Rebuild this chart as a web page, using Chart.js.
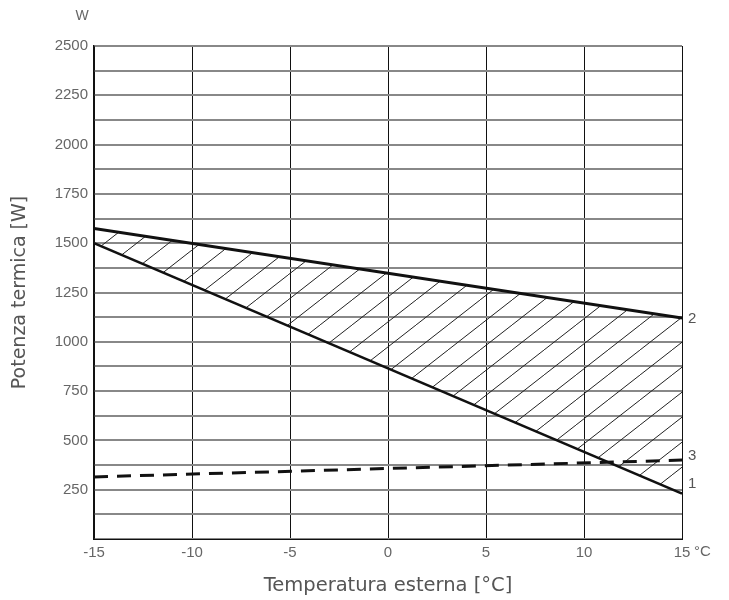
<!DOCTYPE html>
<html>
<head>
<meta charset="utf-8">
<script src="https://cdn.jsdelivr.net/npm/chart.js@4/dist/chart.umd.min.js"></script>
<style>
html,body{margin:0;padding:0;background:#fff;}
#wrap{width:729px;height:600px;position:relative;}
</style>
</head>
<body>
<div id="wrap"><canvas id="c" width="729" height="600"></canvas></div>
<script>
// Data
const temperatures = [-15, 15];           // °C
const curve1 = [1500, 230];               // lower solid line (label 1)
const curve2 = [1575, 1120];              // upper solid line (label 2)
const curve3 = [315, 400];                // dashed line (label 3)
const curveLabels = ['1', '2', '3'];
const xTicks = [-15, -10, -5, 0, 5, 10, 15];
const yLabelStep = 250;

function pts(vals){ return temperatures.map((t,i)=>({x:t,y:vals[i]})); }

function hatchPattern(){
  const w = 32, h = 25;
  const c = document.createElement('canvas');
  c.width = w; c.height = h;
  const g = c.getContext('2d');
  g.strokeStyle = '#222';
  g.lineWidth = 1;
  g.beginPath();
  for (let k=-1;k<=1;k++){
    g.moveTo(k*w, h); g.lineTo(k*w + w, 0);
  }
  g.stroke();
  return g.createPattern(c, 'repeat');
}

const ctx = document.getElementById('c').getContext('2d');
const tickFont = '"Liberation Sans", Arial, sans-serif';

const extraText = {
  id: 'extraText',
  afterDatasetsDraw(chart){
    const {ctx, scales:{x,y}} = chart;
    ctx.save();
    ctx.fillStyle = '#555';
    ctx.font = '15px ' + tickFont;
    ctx.textBaseline = 'middle';
    ctx.textAlign = 'left';
    const xr = x.getPixelForValue(temperatures[1]);
    const ends = [curve1[1], curve2[1], curve3[1]];
    const offs = [-10, 1, -4];
    ends.forEach((v,i)=>{
      ctx.fillText(curveLabels[i], xr + 6, y.getPixelForValue(v) + offs[i]);
    });
    // unit labels
    ctx.font = '14px ' + tickFont;
    ctx.fillStyle = '#666';
    ctx.textAlign = 'center';
    ctx.fillText('W', x.left - 12, y.top - 30);
    ctx.textAlign = 'left';
    ctx.font = '15px ' + tickFont;
    ctx.fillText('°C', xr + 12, y.bottom + 13);
    ctx.restore();
  }
};

new Chart(ctx, {
  type: 'line',
  data: {
    datasets: [
      { label:'1', data: pts(curve1), borderColor:'#111', borderWidth:2.5, pointRadius:0, fill:false, order:1 },
      { label:'2', data: pts(curve2), borderColor:'#111', borderWidth:3, pointRadius:0, fill:'-1', backgroundColor: hatchPattern(), order:2 },
      { label:'3', data: pts(curve3), borderColor:'#111', borderWidth:3, borderDash:[14,9], pointRadius:0, fill:false, order:0 }
    ]
  },
  options: {
    responsive:false,
    animation:false,
    layout:{ padding:{ top:46, right:47, bottom:0, left:0 } },
    plugins:{ legend:{display:false}, tooltip:{enabled:false}, filler:{drawTime:'beforeDatasetsDraw'} },
    scales:{
      x:{
        type:'linear', min:-15, max:15,
        afterBuildTicks(s){ s.ticks = xTicks.map(v=>({value:v})); },
        afterFit(s){ s.height = 61; },
        grid:{ color:'#111', lineWidth:1, drawTicks:false },
        border:{ color:'#111', width:1 },
        ticks:{ color:'#666', padding:5, font:{family:tickFont, size:15}, maxRotation:0 },
        title:{ display:true, text:'Temperatura esterna [°C]', color:'#555', font:{family:'"DejaVu Sans", sans-serif', size:19.5}, padding:{top:0,bottom:2} }
      },
      y:{
        type:'linear', min:0, max:2500,
        ticks:{ stepSize:125, color:'#666', padding:6, font:{family:tickFont, size:15},
          callback:(v)=> (v % yLabelStep === 0 && v > 0) ? String(v) : '' },
        afterFit(s){ s.width = 94; },
        grid:{ color:'#888', lineWidth:2, drawTicks:false },
        border:{ color:'#111', width:1.5 },
        title:{ display:true, text:'Potenza termica [W]', color:'#555', font:{family:'"DejaVu Sans", sans-serif', size:19}, padding:{top:9,bottom:0} }
      }
    }
  },
  plugins:[extraText]
});
</script>
</body>
</html>
